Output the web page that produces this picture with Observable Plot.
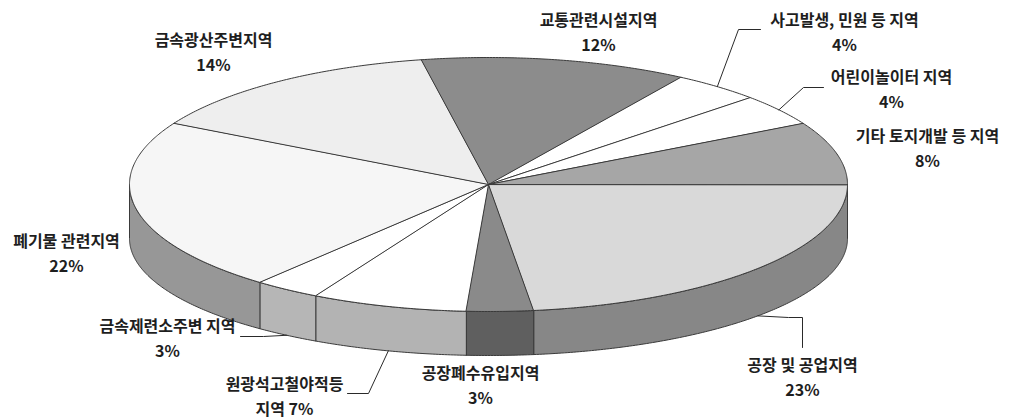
<!DOCTYPE html>
<html>
<head>
<meta charset="utf-8">
<script src="https://cdn.jsdelivr.net/npm/d3@7"></script>
<script src="https://cdn.jsdelivr.net/npm/@observablehq/plot@0.6"></script>
<style>
  html, body { margin: 0; padding: 0; background: #ffffff; }
  #chart svg { display: block; }
</style>
</head>
<body>
<div id="chart"></div>
<script>
// Categories, shares (%) and colours of the pie, clockwise from 3 o'clock
const categories = [
  "공장 및 공업지역",
  "공장폐수유입지역",
  "원광석고철야적등 지역",
  "금속제련소주변 지역",
  "폐기물 관련지역",
  "금속광산주변지역",
  "교통관련시설지역",
  "사고발생, 민원 등 지역",
  "어린이놀이터 지역",
  "기타 토지개발 등 지역"
];
const shares = [23, 3, 7, 3, 22, 14, 12, 4, 4, 8];
const topColors = ["#d9d9d9", "#8a8a8a", "#ffffff", "#ffffff", "#f6f6f6", "#eeeeee", "#8c8c8c", "#ffffff", "#ffffff", "#a6a6a6"];
const sideColors = ["#878787", "#5f5f5f", "#b3b3b3", "#b6b6b6", "#979797", "#c8c8c8", "#6e6e6e", "#cccccc", "#cccccc", "#858585"];

// Page and pie layout (pixels)
const W = 1009, H = 418;
const CX = 488, CY = 184, RX = 359, RY = 127;   // top face
const CYB = 238, RYB = 117;                      // bottom rim
// Label block centres, leader elbows and wrapping (pixels)
const labelLayout = [
  {x: 802, y: 375, leader: [[788, 317], [802, 317], [802, 347]], edge: "bottom"},
  {x: 480, y: 383},
  {x: 284, y: 394, wrap: true, leader: [[368, 393], [347, 393]], edge: "bottom"},
  {x: 167, y: 336, leader: [[263, 336], [240, 336]], edge: "bottom"},
  {x: 66, y: 251},
  {x: 213, y: 50},
  {x: 598, y: 30},
  {x: 844, y: 30, leader: [[738, 29], [760, 29]], edge: "top"},
  {x: 891, y: 87, leader: [[803, 87], [823, 87]], edge: "top"},
  {x: 927, y: 146}
];

// Pie units: 1 unit = horizontal radius
const ux = (px) => (px - CX) / RX;
const uy = (py) => (py - CY) / RX;
const topPt = (a) => ({x: Math.cos(a), y: (RY / RX) * Math.sin(a)});
const botPt = (a) => ({x: Math.cos(a), y: (CYB - CY) / RX + (RYB / RX) * Math.sin(a)});
const arc = (a0, a1, f) => {
  const n = Math.max(2, Math.ceil(Math.abs(a1 - a0) / (Math.PI / 360)));
  return d3.range(n + 1).map(i => f(a0 + (a1 - a0) * i / n));
};

const total = d3.sum(shares);
let acc = 0;
const slices = shares.map((v, i) => {
  const a0 = 2 * Math.PI * acc / total;
  acc += v;
  const a1 = 2 * Math.PI * acc / total;
  return {i, name: categories[i], value: v, a0, a1, mid: (a0 + a1) / 2};
});

const strokeColor = "#3a3a3a";
const marks = [];

// Front rim of every slice that faces the viewer (angles 0..π)
for (const s of slices) {
  const lo = Math.max(s.a0, 0), hi = Math.min(s.a1, Math.PI);
  if (hi <= lo) continue;
  const pts = [...arc(lo, hi, topPt), ...arc(hi, lo, botPt)];
  marks.push(Plot.line(pts, {x: "x", y: "y", curve: "linear-closed", fill: sideColors[s.i], stroke: strokeColor, strokeWidth: 1}));
}

// Top faces
for (const s of slices) {
  const pts = [{x: 0, y: 0}, ...arc(s.a0, s.a1, topPt)];
  marks.push(Plot.line(pts, {x: "x", y: "y", curve: "linear-closed", fill: topColors[s.i], stroke: strokeColor, strokeWidth: 1, strokeLinejoin: "round"}));
}

// Leader lines from the rim at each slice's mid-angle to its label
for (const s of slices) {
  const L = labelLayout[s.i];
  if (!L.leader) continue;
  const start = L.edge === "bottom" ? botPt(s.mid) : topPt(s.mid);
  const pts = [start, ...L.leader.map(([px, py]) => ({x: ux(px), y: uy(py)}))];
  marks.push(Plot.line(pts, {x: "x", y: "y", stroke: "#2a2a2a", strokeWidth: 1}));
}

// Category labels with percentages
const labels = slices.map(s => {
  const L = labelLayout[s.i];
  let text;
  if (L.wrap) {
    const k = s.name.lastIndexOf(" ");
    text = s.name.slice(0, k) + "\n" + s.name.slice(k + 1) + " " + s.value + "%";
  } else {
    text = s.name + "\n" + s.value + "%";
  }
  return {x: ux(L.x), y: uy(L.y), text};
});
marks.push(Plot.text(labels, {
  x: "x", y: "y", text: "text",
  fontSize: 16, lineHeight: 1.55, fontWeight: "bold",
  fill: "#1e1e1e", textAnchor: "middle", lineAnchor: "middle"
}));

const chart = Plot.plot({
  width: W,
  height: H,
  margin: 0,
  x: {domain: [ux(0), ux(W)], range: [0, W], axis: null},
  y: {domain: [uy(0), uy(H)], range: [0, H], axis: null},
  style: {fontFamily: "'Noto Sans CJK KR', 'Noto Sans', sans-serif", background: "#ffffff", overflow: "visible"},
  marks
});
document.getElementById("chart").append(chart);
</script>
</body>
</html>
